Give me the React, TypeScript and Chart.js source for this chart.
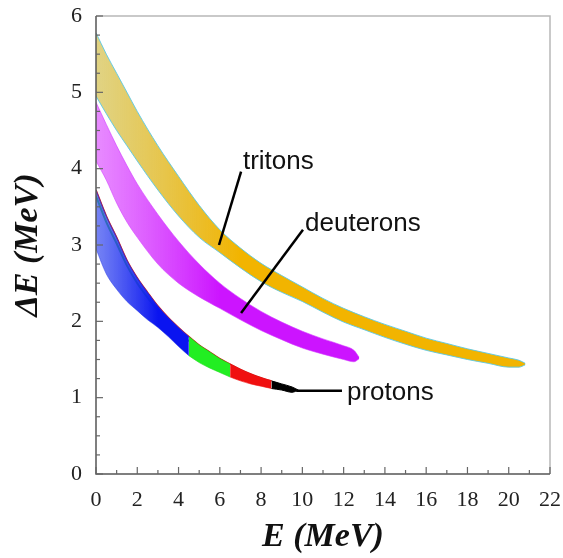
import React, { useEffect, useRef } from 'react';
import { Chart, registerables } from 'chart.js';

Chart.register(...registerables);

// ---- Data (E in MeV, ΔE in MeV) ----
const xTickValues = [0, 2, 4, 6, 8, 10, 12, 14, 16, 18, 20, 22];
const yTickValues = [0, 1, 2, 3, 4, 5, 6];

const tritonE = [0, 0.5, 1, 1.5, 2, 3, 4, 5, 6, 7, 8, 9, 10, 11, 12, 13, 14, 15, 16, 17, 18, 19, 20, 20.5, 20.8];
const tritonUpper = [5.78, 5.5, 5.25, 5.0, 4.75, 4.3, 3.9, 3.52, 3.2, 2.96, 2.76, 2.6, 2.45, 2.3, 2.17, 2.06, 1.96, 1.87, 1.78, 1.71, 1.64, 1.58, 1.52, 1.49, 1.45];
const tritonLower = [4.95, 4.72, 4.5, 4.3, 4.1, 3.72, 3.38, 3.1, 2.9, 2.7, 2.52, 2.38, 2.26, 2.12, 1.99, 1.89, 1.79, 1.7, 1.62, 1.56, 1.5, 1.45, 1.4, 1.4, 1.43];

const deuteronE = [0, 0.5, 1, 1.5, 2, 3, 4, 5, 6, 7, 8, 9, 10, 11, 12, 12.5, 12.75];
const deuteronUpper = [4.87, 4.58, 4.3, 4.04, 3.8, 3.4, 3.05, 2.75, 2.5, 2.3, 2.13, 1.99, 1.87, 1.77, 1.68, 1.62, 1.53];
const deuteronLower = [4.1, 3.85, 3.55, 3.3, 3.1, 2.75, 2.5, 2.32, 2.17, 2.02, 1.88, 1.76, 1.65, 1.57, 1.5, 1.47, 1.51];

const protonE = [0, 0.5, 1, 1.5, 2, 2.5, 3, 3.5, 4, 4.5, 5, 5.5, 6, 6.5, 7, 7.5, 8, 8.5, 9, 9.5, 9.8];
const protonUpper = [3.72, 3.38, 3.1, 2.8, 2.57, 2.38, 2.2, 2.05, 1.92, 1.8, 1.69, 1.6, 1.51, 1.44, 1.37, 1.31, 1.26, 1.22, 1.18, 1.14, 1.1];
const protonLower = [2.95, 2.62, 2.42, 2.26, 2.14, 2.02, 1.92, 1.8, 1.67, 1.55, 1.46, 1.39, 1.33, 1.27, 1.22, 1.18, 1.15, 1.12, 1.1, 1.07, 1.1];
const protonRidge = [3.64, 3.3, 3.02, 2.73, 2.5, 2.31, 2.14, 1.99, 1.86, 1.74];

// segments of the proton band by colour: [first index, last index]
const protonBlue = [0, 9];
const protonGreen = [9, 13];
const protonRed = [13, 17];
const protonBlack = [17, 20];

const labels = ['tritons', 'deuterons', 'protons'];

function pts(E: number[], Y: number[], i0 = 0, i1 = E.length - 1) {
  const out: { x: number; y: number }[] = [];
  for (let i = i0; i <= i1; i++) out.push({ x: E[i], y: Y[i] });
  return out;
}

function gradientFill(left: string, right: string, xFrom: number, xTo: number) {
  return (c: any) => {
    const chart = c.chart;
    const area = chart.chartArea;
    if (!area) return right;
    const xs = chart.scales.x;
    const g = chart.ctx.createLinearGradient(xs.getPixelForValue(xFrom), 0, xs.getPixelForValue(xTo), 0);
    g.addColorStop(0, left);
    g.addColorStop(1, right);
    return g;
  };
}

function band(E: number[], lo: number[], hi: number[], i0: number, i1: number, fillColor: any, border: string, bw: number) {
  const common = { showLine: true, pointRadius: 0, cubicInterpolationMode: 'monotone' as const, borderColor: border, borderWidth: bw };
  return [
    { ...common, data: pts(E, lo, i0, i1), fill: false },
    { ...common, data: pts(E, hi, i0, i1), fill: '-1', backgroundColor: fillColor },
  ];
}

const decorPlugin = {
  id: 'decor',
  afterDraw(chart: any) {
    const { ctx, chartArea, scales } = chart;
    const { left, right, top, bottom } = chartArea;
    const xs = scales.x;
    const ys = scales.y;
    ctx.save();
    // frame
    ctx.lineWidth = 1.5;
    ctx.strokeStyle = '#b8b8b8';
    ctx.beginPath();
    ctx.moveTo(left, top);
    ctx.lineTo(right, top);
    ctx.lineTo(right, bottom);
    ctx.stroke();
    ctx.strokeStyle = '#555';
    ctx.beginPath();
    ctx.moveTo(left, top);
    ctx.lineTo(left, bottom);
    ctx.lineTo(right, bottom);
    ctx.stroke();
    // inward ticks
    ctx.lineWidth = 1.2;
    ctx.strokeStyle = '#666';
    for (let v = 0; v <= 22; v += 1) {
      const px = xs.getPixelForValue(v);
      const len = v % 2 === 0 ? 7 : 4;
      ctx.beginPath();
      ctx.moveTo(px, bottom);
      ctx.lineTo(px, bottom - len);
      ctx.stroke();
    }
    for (let v = 0; v <= 6.001; v += 0.25) {
      const py = ys.getPixelForValue(v);
      const len = Math.abs(v - Math.round(v)) < 1e-6 ? 7 : 4;
      ctx.beginPath();
      ctx.moveTo(left, py);
      ctx.lineTo(left + len, py);
      ctx.stroke();
    }
    // annotations
    const P = (e: number, d: number) => [xs.getPixelForValue(e), ys.getPixelForValue(d)];
    ctx.strokeStyle = '#000';
    ctx.lineWidth = 2.5;
    const seg = (a: number[], b: number[]) => {
      const p = P(a[0], a[1]);
      const q = P(b[0], b[1]);
      ctx.beginPath();
      ctx.moveTo(p[0], p[1]);
      ctx.lineTo(q[0], q[1]);
      ctx.stroke();
    };
    seg([7.03, 3.96], [5.96, 3.0]);
    seg([10.03, 3.2], [7.03, 2.11]);
    seg([9.7, 1.09], [11.92, 1.09]);
    ctx.fillStyle = '#111';
    ctx.font = '26px "Liberation Sans", Arial, sans-serif';
    ctx.textAlign = 'left';
    ctx.textBaseline = 'middle';
    const t1 = P(7.12, 4.09);
    ctx.fillText(labels[0], t1[0], t1[1]);
    const t2 = P(10.13, 3.28);
    ctx.fillText(labels[1], t2[0], t2[1]);
    const t3 = P(12.16, 1.06);
    ctx.fillText(labels[2], t3[0], t3[1]);
    ctx.restore();
  },
};

export default function App() {
  const ref = useRef<HTMLCanvasElement>(null);
  useEffect(() => {
    const canvas = ref.current;
    if (!canvas) return;
    const gold = gradientFill('rgba(214,196,90,0.75)', 'rgba(242,180,0,1)', 0, 7);
    const magenta = gradientFill('rgba(226,110,255,0.8)', 'rgba(204,20,255,1)', 0, 6);
    const blue = gradientFill('rgba(60,80,240,0.7)', 'rgba(10,20,240,1)', 0, 3);
    const datasets: any[] = [
      ...band(tritonE, tritonLower, tritonUpper, 0, tritonE.length - 1, gold, 'rgba(90,200,230,0.9)', 1),
      ...band(deuteronE, deuteronLower, deuteronUpper, 0, deuteronE.length - 1, magenta, 'rgba(210,60,255,0.6)', 1),
      ...band(protonE, protonLower, protonUpper, protonBlue[0], protonBlue[1], blue, 'rgba(40,60,230,0.5)', 1),
      ...band(protonE, protonLower, protonUpper, protonGreen[0], protonGreen[1], '#22ee22', 'rgba(30,220,30,0.6)', 1),
      ...band(protonE, protonLower, protonUpper, protonRed[0], protonRed[1], '#f01010', 'rgba(240,20,20,0.6)', 1),
      ...band(protonE, protonLower, protonUpper, protonBlack[0], protonBlack[1], '#000', '#000', 1),
      {
        data: pts(protonE, protonRidge, 0, protonRidge.length - 1),
        showLine: true, pointRadius: 0, cubicInterpolationMode: 'monotone', borderColor: '#22dd22', borderWidth: 2, fill: false,
      },
      {
        data: pts(protonE, protonUpper, 0, protonRed[1]),
        showLine: true, pointRadius: 0, cubicInterpolationMode: 'monotone', borderColor: '#d01010', borderWidth: 1.5, fill: false,
      },
    ];
    const chart = new Chart(canvas, {
      type: 'scatter',
      data: { datasets },
      options: {
        animation: false,
        responsive: false,
        events: [],
        layout: { padding: { top: 16, right: 13, left: 0, bottom: 0 } },
        plugins: { legend: { display: false }, tooltip: { enabled: false } },
        scales: {
          x: {
            type: 'linear',
            min: 0,
            max: 22,
            afterFit: (s: any) => { s.height = 84; s.paddingLeft = 0; s.paddingRight = 0; },
            afterBuildTicks: (s: any) => { s.ticks = xTickValues.map((v) => ({ value: v })); },
            grid: { display: false, drawTicks: false },
            border: { display: false },
            ticks: { autoSkip: false, maxRotation: 0, padding: 13, color: '#222', font: { family: '"Liberation Serif", "Times New Roman", serif', size: 22 } },
            title: {
              display: true,
              text: 'E (MeV)',
              color: '#111',
              padding: { top: 0, bottom: 0 },
              font: { family: '"Liberation Serif", "Times New Roman", serif', size: 34, style: 'italic', weight: 'bold' },
            },
          },
          y: {
            type: 'linear',
            min: 0,
            max: 6,
            afterFit: (s: any) => { s.width = 96; s.paddingTop = 0; s.paddingBottom = 0; },
            afterBuildTicks: (s: any) => { s.ticks = yTickValues.map((v) => ({ value: v })); },
            grid: { display: false, drawTicks: false },
            border: { display: false },
            ticks: { autoSkip: false, padding: 14, color: '#222', font: { family: '"Liberation Serif", "Times New Roman", serif', size: 22 } },
            title: {
              display: true,
              text: 'ΔE (MeV)',
              color: '#111',
              padding: { top: 8, bottom: 0 },
              font: { family: '"Liberation Serif", "Times New Roman", serif', size: 34, style: 'italic', weight: 'bold' },
            },
          },
        },
      },
      plugins: [decorPlugin],
    } as any);
    return () => chart.destroy();
  }, []);
  return (
    <canvas
      ref={ref}
      width={563}
      height={558}
      style={{ position: 'fixed', left: 0, top: 0, width: 563, height: 558, display: 'block', background: '#fff' }}
    />
  );
}
